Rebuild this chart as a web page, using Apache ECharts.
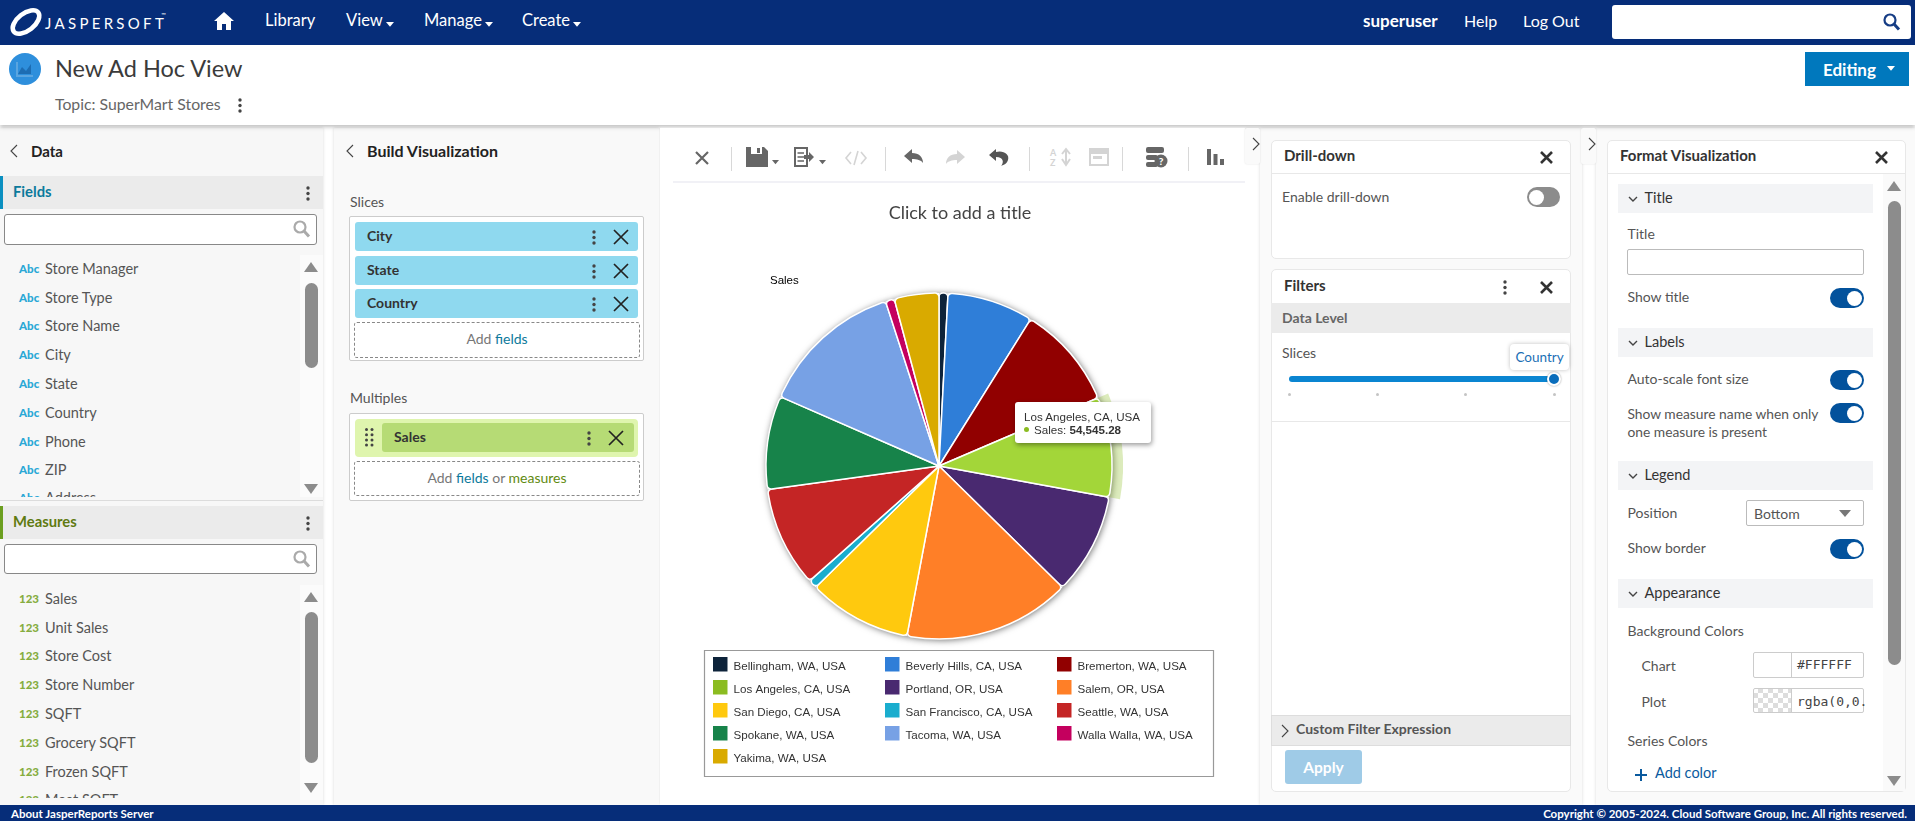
<!DOCTYPE html>
<html><head><meta charset="utf-8">
<script src="https://cdn.jsdelivr.net/npm/echarts@6/dist/echarts.min.js"></script>
<style>
html,body{margin:0;padding:0;width:1915px;height:821px;overflow:hidden;background:#fff;font-family:Lato,sans-serif;}
#ui{position:absolute;left:0;top:0;width:1915px;height:821px;}
#ui div{position:absolute;box-sizing:border-box;}
#ui svg{position:absolute;overflow:visible;}
#chart{position:absolute;left:660px;top:185px;width:585px;height:610px;}
</style></head><body>
<div id="ui"></div>
<div id="chart"></div>
<script>
// ---- chart data ----
const cities = ["Bellingham, WA, USA","Beverly Hills, CA, USA","Bremerton, WA, USA","Los Angeles, CA, USA","Portland, OR, USA","Salem, OR, USA","San Diego, CA, USA","San Francisco, CA, USA","Seattle, WA, USA","Spokane, WA, USA","Tacoma, WA, USA","Walla Walla, WA, USA","Yakima, WA, USA"];
const sales = [4870,47079,56494,54545.28,55358,91235,56494,4708,54871,50975,78573,4870,24351];
const palette = ["#0d233a","#2f7ed8","#910000","#8bbc21","#492970","#ff7f27","#ffc90e","#1aadce","#c42525","#17834a","#77a1e5","#c4005e","#d9aa00"];
const hoveredIndex = 3;
const hoverColor = "#a3d639";
const measureName = "Sales";
const chartTitle = "Click to add a title";
// ---- page text ----
const fieldItems = ["Store Manager","Store Type","Store Name","City","State","Country","Phone","ZIP","Address"];
const measureItems = ["Sales","Unit Sales","Store Cost","Store Number","SQFT","Grocery SQFT","Frozen SQFT","Meat SQFT"];

// ---- page chrome helpers ----
let h = "";
function T(s,x,y,o={}){const a=o.anchor||"left";const tx=a==="center"?"-50%":a==="right"?"-100%":"0";
 return `<div style="left:${x}px;top:${y}px;transform:translate(${tx},-50%);white-space:nowrap;font-size:${o.size||14.5}px;color:${o.color||"#555"};font-weight:${o.weight||400};font-family:${o.font||"Lato,sans-serif"};letter-spacing:${o.ls||0}px;line-height:1.2">${s}</div>`;}
function R(x0,y0,x1,y1,o={}){return `<div style="left:${x0}px;top:${y0}px;width:${x1-x0}px;height:${y1-y0}px;background:${o.bg||"transparent"};border:${o.border||"none"};border-radius:${o.r||0}px;box-shadow:${o.shadow||"none"}">${o.html||""}</div>`;}
function Clip(x0,y0,x1,y1,inner){return `<div style="left:${x0}px;top:${y0}px;width:${x1-x0}px;height:${y1-y0}px;overflow:hidden"><div style="left:${-x0}px;top:${-y0}px;width:1915px;height:821px">${inner}</div></div>`;}
function S(inner,cx,cy,w,ht){return `<svg style="left:${cx-w/2}px;top:${cy-ht/2}px" width="${w}" height="${ht}" viewBox="0 0 ${w} ${ht}">${inner}</svg>`;}
const icoX=(cx,cy,c="#333",w=1.7,r=6.5)=>S(`<path d="M1 1L${2*r-1} ${2*r-1}M${2*r-1} 1L1 ${2*r-1}" stroke="${c}" stroke-width="${w}" fill="none"/>`,cx,cy,2*r,2*r);
const icoDots=(cx,cy,c="#444")=>S(`<circle cx="2" cy="2" r="1.7" fill="${c}"/><circle cx="2" cy="7.5" r="1.7" fill="${c}"/><circle cx="2" cy="13" r="1.7" fill="${c}"/>`,cx,cy,4,15);
const icoSearch=(cx,cy,c="#999")=>S(`<circle cx="7" cy="7" r="5.5" stroke="${c}" stroke-width="2.2" fill="none"/><path d="M11 11L16 16.5" stroke="${c}" stroke-width="3"/>`,cx,cy,17,18);
const icoChevL=(cx,cy,c="#444")=>S(`<path d="M7 1L1 7L7 13" stroke="${c}" stroke-width="1.1" fill="none"/>`,cx,cy,8,14);
const icoChevR=(cx,cy,c="#444")=>S(`<path d="M1 1L7 7L1 13" stroke="${c}" stroke-width="1.1" fill="none"/>`,cx,cy,8,14);
const icoChevD=(cx,cy,c="#444")=>S(`<path d="M1 1L5 5L9 1" stroke="${c}" stroke-width="1.4" fill="none"/>`,cx,cy,10,6);
const triU=(cx,cy,c="#8c8c8c")=>S(`<path d="M7 0L14 10H0Z" fill="${c}"/>`,cx,cy,14,10);
const triD=(cx,cy,c="#8c8c8c")=>S(`<path d="M0 0H14L7 10Z" fill="${c}"/>`,cx,cy,14,10);
const caret=(cx,cy,c="#fff",w=8)=>S(`<path d="M0 0H${w}L${w/2} ${w*0.6}Z" fill="${c}"/>`,cx,cy,w,w*0.6);
const thumb=(x0,y0,x1,y1)=>R(x0,y0,x1,y1,{bg:"#8c8c8c",r:7});
const toggle=(x0,y0)=>R(x0,y0,x0+34,y0+19.5,{bg:"#03529c",r:10,html:`<div style="left:17px;top:2.5px;width:15px;height:15px;border-radius:50%;background:#fff"></div>`});

// frame
h+=R(0,128,323,805,{bg:"#f7f7f7",shadow:"0 0 3px rgba(0,0,0,.15)"});
h+=R(334,128,659,805,{bg:"#f9f9f9",shadow:"0 0 3px rgba(0,0,0,.15)"});
h+=R(1260,128,1582,805,{bg:"#fafafa",shadow:"0 0 3px rgba(0,0,0,.15)"});
h+=R(1596,128,1915,805,{bg:"#fafafa",shadow:"0 0 3px rgba(0,0,0,.15)"});
// sub header
h+=R(0,45,1915,125,{bg:"#fff",shadow:"0 2px 4px rgba(0,0,0,.25)"});
// top bar
h+=R(0,0,1915,45,{bg:"#062d79"});
h+=S(`<ellipse cx="17" cy="15" rx="15.5" ry="8.5" transform="rotate(-38 17 15)" stroke="#fff" stroke-width="4.6" fill="none"/>`,26,22,34,30);
h+=T("JASPERSOFT",45,23,{size:15,color:"#fff",ls:3.3});
h+=T("™",161,15,{size:6,color:"#fff"});
h+=S(`<path d="M10 0L20 9H17V18H12V12H8V18H3V9H0Z" fill="#fff"/>`,224,21,20,18);
const navs=[["Library",265],["View",346],["Manage",424],["Create",522]];
navs.forEach(n=>h+=T(n[0],n[1],21,{size:16.5,color:"#fff"}));
h+=caret(390,24)+caret(489,24)+caret(577,24);
h+=T("superuser",1363,21,{size:17,color:"#fff",weight:700});
h+=T("Help",1464,21,{size:16,color:"#fff"});
h+=T("Log Out",1523,21,{size:16,color:"#fff"});
h+=R(1612,5,1911,39,{bg:"#fff",r:3});
h+=icoSearch(1891,22,"#163d85");
// title row
h+=S(`<circle cx="16" cy="16" r="16" fill="#2e8fdc"/><path d="M8 9V23H24" stroke="#5aa5e0" stroke-width="2" fill="none"/><path d="M9 21L13 14L17 18L22 11V21Z" fill="#1d6db3"/>`,25,69,32,32);
h+=T("New Ad Hoc View",55,68,{size:23.5,color:"#3b3b3b"});
h+=T("Topic: SuperMart Stores",55,104,{size:15.8,color:"#666"});
h+=icoDots(240,105);
h+=R(1805,52,1909,86,{bg:"#0078bd"});
h+=T("Editing",1823,69.5,{size:17,color:"#fff",weight:700});
h+=caret(1891,68,"#fff",8);

// left panel
h+=icoChevL(14,151)+T("Data",31,151,{size:15,color:"#222",weight:700});
h+=R(0,176,323,209,{bg:"#ebebeb"})+R(0,176,3,209,{bg:"#0a8fc0"});
h+=T("Fields",13,191.5,{size:14.8,color:"#0c7a9c",weight:700})+icoDots(308,193);
h+=R(4,214,317,245,{bg:"#fff",border:"1px solid #888",r:3})+icoSearch(301,229,"#aaa");
let fl="";const fieldY=[269,298,326,355,384,413,442,470,498];
fieldItems.forEach((f,i)=>{fl+=T("Abc",19,fieldY[i],{size:11.5,color:"#2aa8d6",weight:900})+T(f,45,fieldY[i]);});
h+=Clip(0,255,300,497,fl);
h+=R(300,255,323,497,{bg:"#fbfbfb"})+triU(311,267)+thumb(305,283,318,368)+triD(311,489);
h+=R(0,500,323,501,{bg:"#dcdcdc"});
h+=R(0,506,323,539,{bg:"#ebebeb"})+R(0,506,3,539,{bg:"#6b9e1f"});
h+=T("Measures",13,521.5,{size:14.8,color:"#5f7a10",weight:700})+icoDots(308,523);
h+=R(4,544,317,574,{bg:"#fff",border:"1px solid #888",r:3})+icoSearch(301,559,"#aaa");
let ml="";const measY=[599,628,656,685,714,743,772,800];
measureItems.forEach((f,i)=>{ml+=T("123",19,measY[i],{size:11.5,color:"#86ad3f",weight:900})+T(f,45,measY[i]);});
h+=Clip(0,585,300,798,ml);
h+=R(300,585,323,800,{bg:"#fbfbfb"})+triU(311,597)+thumb(305,612,318,763)+triD(311,788);

// build panel
h+=icoChevL(350,151)+T("Build Visualization",367,151,{size:16,color:"#222",weight:700});
h+=T("Slices",350,202,{size:14});
h+=R(349,216,644,361,{bg:"#fff",border:"1px solid #ccc",r:2});
[["City",222],["State",256],["Country",289]].forEach(p=>{
 h+=R(355,p[1],638,p[1]+29,{bg:"#8fd9ef",r:3})+T(p[0],367,p[1]+14,{size:14,color:"#333",weight:700})+icoDots(594,p[1]+15)+icoX(620.5,p[1]+15,"#222",1.7,8);});
h+=R(354,322,640,358,{border:"1px dashed #888",r:3});
h+=T('Add <span style="color:#0c7a9c">fields</span>',497,339,{size:14,anchor:"center",color:"#777"});
h+=T("Multiples",350,398,{size:14});
h+=R(349,413,644,501,{bg:"#fff",border:"1px solid #ccc",r:2});
h+=R(355,419,638,457,{bg:"#dff5ae",r:4})+R(382,423,634,452,{bg:"#b6db75",r:3});
h+=S([0,1].map(c=>[0,1,2,3].map(r=>`<circle cx="${1.5+c*5.5}" cy="${1.5+r*5.2}" r="1.5" fill="#444"/>`).join("")).join(""),369,437,9,18);
h+=T("Sales",394,437,{size:14,color:"#333",weight:700})+icoDots(589,438)+icoX(616,438,"#222",1.7,8);
h+=R(354,461,640,496,{border:"1px dashed #888",r:3});
h+=T('Add <span style="color:#0c7a9c">fields</span> or <span style="color:#5f8a10">measures</span>',497,478,{size:14,anchor:"center",color:"#777"});

// toolbar
h+=R(660,128,1245,805,{bg:"#fff"});
[731,885,1029,1122,1188].forEach(x=>h+=R(x,147,x+1,171,{bg:"#d8d8d8"}));
h+=icoX(702,158,"#666",2.2,7);
const G="#666",L="#d4d4d4";
h+=S(`<path d="M0 0H18L22 4V20H0Z" fill="${G}"/><rect x="5" y="0" width="11" height="7" fill="#fff"/><rect x="11" y="1" width="3" height="5" fill="${G}"/>`,757,157,22,20)+caret(775,162,G,7);
h+=S(`<path d="M1 1H13V19H1Z" fill="none" stroke="${G}" stroke-width="2"/><path d="M3.5 6H10M3.5 10H10M3.5 14H10" stroke="${G}" stroke-width="1.6"/><path d="M10 8H15V5L20 10L15 15V12H10Z" fill="${G}"/>`,804,157,20,20)+caret(822,162,G,7);
h+=S(`<path d="M5 2L0 8L5 14M15 2L20 8L15 14M12 1L8 15" stroke="${L}" stroke-width="1.6" fill="none"/>`,856,158,20,16);
h+=S(`<path d="M0 7L8 0V4C15 4 19 8 19 14C17 11 13 10 8 10V14Z" fill="${G}"/>`,913,156,19,14);
h+=S(`<path d="M19 7L11 0V4C4 4 0 8 0 14C2 11 6 10 11 10V14Z" fill="${L}"/>`,955,157,19,14);
h+=S(`<path d="M0 9L7 3V6C14 4 21 8 19 14C18 18 14 19 12 20C15 17 15 11 7 11V15Z" fill="#555"/>`,999,156,20,20);
h+=S(`<path d="M12 0V14M8 10L12 16L16 10M12 16V0M8 5L12 0L16 5" stroke="${L}" stroke-width="2" fill="none" transform="translate(4 2)"/>`,1060,157,20,20)+T("A",1050,153,{size:9,color:L,weight:700})+T("Z",1050,163,{size:9,color:L,weight:700});
h+=S(`<rect width="20" height="18" fill="${L}"/><rect x="2" y="6" width="16" height="10" fill="#fff"/><rect x="4" y="8" width="9" height="3" fill="${L}"/>`,1099,157,20,18);
h+=S(`<rect x="0" y="0" width="18" height="6" rx="2" fill="${G}"/><rect x="0" y="8" width="12" height="5" rx="2" fill="${G}"/><rect x="0" y="15" width="12" height="5" rx="2" fill="${G}"/><circle cx="15" cy="14" r="6.5" fill="${G}"/>`,1157,157,22,20)+T("?",1161,161,{size:10,color:"#fff",weight:900,anchor:"center"});
h+=S(`<rect x="0" y="0" width="4" height="16" fill="${G}"/><rect x="6.5" y="5" width="4" height="11" fill="${G}"/><rect x="13" y="10" width="4" height="6" fill="${G}"/>`,1215,157,17,16);
h+=R(673,181,1245,183,{bg:"#f1f1f6"});
h+=R(1245,128,1260,164,{bg:"#fafafa",r:2,shadow:"0 0 2px rgba(0,0,0,.12)"})+icoChevR(1256,144);
h+=R(1581,128,1596,164,{bg:"#fafafa",r:2,shadow:"0 0 2px rgba(0,0,0,.12)"})+icoChevR(1592,144);

// drill-down + filters
const card="1px solid #e8e8e8";
h+=R(1271,140,1571,259,{bg:"#fff",border:card,r:5})+R(1271,173,1571,174,{bg:"#e8e8e8"});
h+=T("Drill-down",1284,155,{size:15,color:"#333",weight:700})+icoX(1546,157,"#333",2.6,6.5);
h+=T("Enable drill-down",1282,197,{size:14});
h+=R(1527,187,1560,207,{bg:"#8c8c8c",r:10,html:`<div style="left:2px;top:2.5px;width:15px;height:15px;border-radius:50%;background:#fff"></div>`});
h+=R(1271,269,1571,792,{bg:"#fff",border:card,r:5});
h+=T("Filters",1284,285,{size:15,color:"#333",weight:700})+icoDots(1505,287)+icoX(1546,287,"#333",2.6,6.5);
h+=R(1271,303,1571,333,{bg:"#ebebeb"})+T("Data Level",1282,317.5,{size:14,color:"#666",weight:700});
h+=T("Slices",1282,353,{size:14});
h+=R(1289,376,1554,382,{bg:"#0a85d1",r:3});
[1289.5,1377,1465,1554].forEach(x=>h+=R(x-1.5,392.5,x+1.5,395.5,{bg:"#c4c4c4",r:1.5}));
h+=R(1547,372,1561,386,{bg:"#0a6dbb",border:"2px solid #fff",r:7,shadow:"0 0 2px rgba(0,0,0,.4)"});
h+=R(1510,344,1569,370,{bg:"#fff",r:4,shadow:"0 0 4px rgba(0,0,0,.25)"})+T("Country",1539.5,357,{size:13.5,color:"#1b6fb5",anchor:"center"});
h+=R(1271,421,1571,422,{bg:"#e8e8e8"});
h+=R(1271,715,1571,746,{bg:"#ebebeb",border:"1px solid #ddd"})+icoChevR(1285,731)+T("Custom Filter Expression",1296,729,{size:14,color:"#555",weight:700});
h+=R(1285,750,1362,784,{bg:"#9fcbe7",r:3})+T("Apply",1323.5,766.5,{size:15.5,color:"#fff",weight:700,anchor:"center"});

// format panel
h+=R(1607,140,1906,792,{bg:"#fff",border:card,r:5})+R(1607,173,1906,174,{bg:"#e8e8e8"});
h+=T("Format Visualization",1620,155,{size:15,color:"#333",weight:700})+icoX(1881,157,"#333",2.6,6.5);
h+=R(1883,174,1905,791,{bg:"#fafafa"});
[["Title",184],["Labels",328],["Legend",461],["Appearance",579]].forEach(s=>{
 h+=R(1618,s[1],1873,s[1]+29,{bg:"#f3f4f6"})+icoChevD(1633,s[1]+15)+T(s[0],1644.5,s[1]+14,{size:14.5,color:"#333"});});
const F=1627.5;
h+=T("Title",F,234,{size:14});
h+=R(1627,249,1864,275,{bg:"#fff",border:"1px solid #bbb",r:2});
h+=T("Show title",F,297,{size:14})+toggle(1830,288);
h+=T("Auto-scale font size",F,379,{size:14})+toggle(1830,370);
h+=T("Show measure name when only",F,414,{size:13.8})+T("one measure is present",F,432,{size:13.8})+toggle(1830,403);
h+=T("Position",F,513,{size:14});
h+=R(1746,500,1864,526,{bg:"#fff",border:"1px solid #bbb",r:2})+T("Bottom",1754,514,{size:14})+S(`<path d="M0 0H12L6 7Z" fill="#777"/>`,1845,513,12,7);
h+=T("Show border",F,548,{size:14})+toggle(1830,539);
h+=T("Background Colors",F,631,{size:14});
h+=T("Chart",1641.5,665.5,{size:14})+R(1753,652,1864,678,{bg:"#fff",border:"1px solid #ccc",r:2})+R(1791,652,1792,678,{bg:"#ccc"})+T("#FFFFFF",1797,665,{size:13,font:"'DejaVu Sans Mono',monospace",color:"#444"});
h+=T("Plot",1641.5,701.5,{size:14})+`<div style="left:1753px;top:688px;width:38px;height:25px;background:repeating-conic-gradient(#ddd 0 25%,#fff 0 50%) 0 0/10px 10px"></div>`+R(1753,688,1864,713,{border:"1px solid #ccc",r:2})+R(1791,688,1792,713,{bg:"#ccc"})+T("rgba(0,0.",1797,702,{size:13,font:"'DejaVu Sans Mono',monospace",color:"#444"});
h+=T("Series Colors",F,740.5,{size:14});
h+=S(`<path d="M6 0V12M0 6H12" stroke="#0a5a9e" stroke-width="2"/>`,1641,775,12,12)+T("Add color",1655,773,{size:14.5,color:"#0a5a9e"});
h+=triU(1894,186)+thumb(1888,201,1901,665)+triD(1894,781);

// footer
h+=R(0,805,1915,821,{bg:"#062d79"});
h+=T("About JasperReports Server",11,813.5,{size:11.5,color:"#fff",weight:700});
h+=T("Copyright © 2005-2024. Cloud Software Group, Inc. All rights reserved.",1907,813.5,{size:11.5,color:"#fff",weight:700,anchor:"right"});
document.getElementById("ui").innerHTML=h;

// ---- chart ----
const chart = echarts.init(document.getElementById("chart"),null,{renderer:"canvas"});
const CENTER=[279,281], RADIUS=173;
const sliceData = cities.map((c,i)=>({name:c,value:sales[i],itemStyle:{color:palette[i]},
  emphasis:i===hoveredIndex?{itemStyle:{color:hoverColor}}:undefined}));
const pieBase={type:"pie",center:CENTER,startAngle:90,clockwise:true,animation:false,label:{show:false},labelLine:{show:false},avoidLabelOverlap:false};
const colLegend=(names,left)=>({show:true,orient:"vertical",left,top:470.75,padding:0,itemWidth:14.5,itemHeight:14.5,itemGap:6,icon:"rect",selectedMode:false,
  data:names,itemStyle:{borderWidth:0,shadowBlur:0},formatter:"{t|{name}}",
  textStyle:{rich:{t:{fontFamily:"'Liberation Sans',Arial,sans-serif",fontSize:11.6,lineHeight:13,color:"#333",padding:[5,0,0,1]}}}});
chart.setOption({
  animation:false,
  title:[
    {text:chartTitle,left:295,top:14,textAlign:"center",textStyle:{fontFamily:"Lato,sans-serif",fontSize:18,fontWeight:400,color:"#444"}},
    {text:measureName,left:105,top:84.5,textStyle:{fontFamily:"'Liberation Sans',Arial,sans-serif",fontSize:11.5,fontWeight:400,color:"#000"}}
  ],
  tooltip:{trigger:"item",alwaysShowContent:true,transitionDuration:0,showDelay:0,position:[355,217],padding:[9,11,7,9],backgroundColor:"#fff",borderWidth:0,
    extraCssText:"border-radius:3px;box-shadow:1px 2px 5px rgba(0,0,0,.4);line-height:12.5px;",
    textStyle:{fontFamily:"'Liberation Sans',Arial,sans-serif",fontSize:11.6,color:"#333"},
    formatter:p=>`${p.name}<br/><span style="display:inline-block;width:5px;height:5px;border-radius:50%;background:${palette[p.dataIndex]};margin:0 5px 2px 0"></span>${measureName}: <b>${p.value.toLocaleString("en-US",{minimumFractionDigits:2,maximumFractionDigits:2})}</b>`},
  legend:[colLegend(cities.filter((c,i)=>i%3===0),53),colLegend(cities.filter((c,i)=>i%3===1),225),colLegend(cities.filter((c,i)=>i%3===2),397)],
  graphic:[{type:"rect",silent:true,shape:{x:44.5,y:465.5,width:509,height:126},style:{fill:"none",stroke:"#999",lineWidth:1.2}}],
  series:[
    Object.assign({},pieBase,{name:measureName,z:4,radius:RADIUS,data:sliceData,
      itemStyle:{borderColor:"#fff",borderWidth:1.5,borderRadius:4},emphasis:{scale:false,focus:"none"}}),
    Object.assign({},pieBase,{name:"shadow",z:2,silent:true,radius:RADIUS,legendHoverLink:false,tooltip:{show:false},
      data:cities.map((c,i)=>({name:c,value:sales[i],itemStyle:{color:"#fff"}})),
      itemStyle:{shadowBlur:7,shadowColor:"rgba(0,0,0,.6)",shadowOffsetX:1,shadowOffsetY:1}}),
    Object.assign({},pieBase,{name:"halo",z:3,silent:true,radius:184,legendHoverLink:false,tooltip:{show:false},
      data:cities.map((c,i)=>({name:c,value:sales[i],itemStyle:{color:i===hoveredIndex?"rgba(139,188,33,.3)":"rgba(0,0,0,0)"}}))})
  ]
});
chart.dispatchAction({type:"highlight",seriesIndex:0,dataIndex:hoveredIndex});
chart.dispatchAction({type:"showTip",seriesIndex:0,dataIndex:hoveredIndex});
</script>
</body></html>
